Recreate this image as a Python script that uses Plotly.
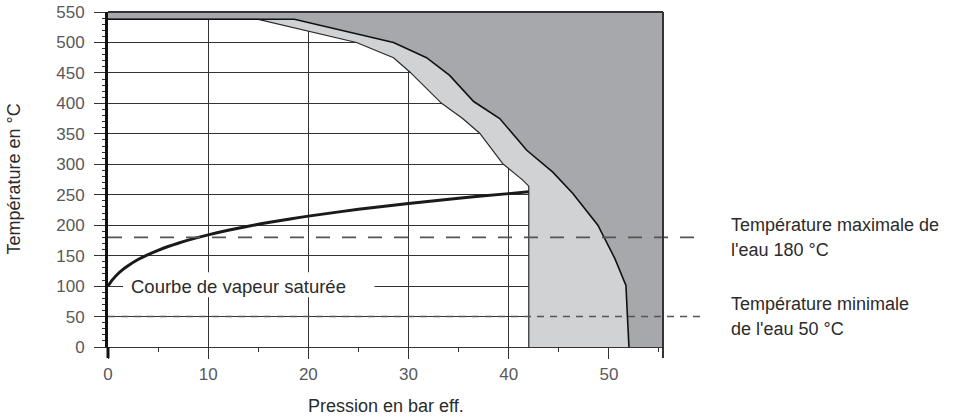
import plotly.graph_objects as go

# ---- data ----
# saturated steam curve (gauge pressure in bar, temperature in °C)
sat_p = [0, 0.25, 0.5, 1, 1.5, 2, 3, 4, 5, 6, 7, 8, 10, 12, 14, 16, 18, 20, 25, 30, 35, 40, 42]
sat_t = [100, 106, 111.4, 120.2, 127.4, 133.5, 143.6, 151.8, 158.8, 165, 170.4, 175.4, 184.1,
         191.6, 198.3, 204.3, 209.8, 214.9, 226, 235.7, 244.2, 251.8, 254.7]

# outer limit (dark region to the right / above)
outer_p = [0, 18.6, 28.5, 31.8, 34.1, 36.5, 39.1, 41.8, 44.4, 46.4, 48.9, 50.6, 51.7, 52.0]
outer_t = [538, 538, 500, 475, 446, 403, 375, 323, 287, 252, 200, 145, 101, 0]

# inner limit (light region between inner and outer)
inner_p = [0, 15.0, 24.8, 28.5, 30.1, 33.3, 35.4, 37.1, 39.4, 41.4, 42.0, 42.0]
inner_t = [538, 538, 500, 475, 452, 400, 375, 351, 301, 274, 264, 0]

x_max = 55.4
y_max = 550
x_ticks = [0, 10, 20, 30, 40, 50]
x_minor = [5, 15, 25, 35, 45, 55]
y_ticks = list(range(0, 551, 50))

t_max_water = 180
t_min_water = 50
label_max_lines = ["Température maximale de", "l'eau 180 °C"]
label_min_lines = ["Température minimale", "de l'eau 50 °C"]
label_curve = "Courbe de vapeur saturée"
x_title = "Pression en bar eff."
y_title = "Température en °C"

DARK = "#a7a8ab"
LIGHT = "#d1d2d4"
GRID = "#333333"
FONT = "Liberation Sans, Arial, sans-serif"

fig = go.Figure()

# dark region polygon
fig.add_trace(go.Scatter(
    x=outer_p + [x_max, x_max, 0], y=outer_t + [0, y_max, y_max],
    fill="toself", fillcolor=DARK, mode="lines", line=dict(width=0),
    hoverinfo="skip", showlegend=False))

# light region polygon
fig.add_trace(go.Scatter(
    x=inner_p + outer_p[::-1], y=inner_t + outer_t[::-1],
    fill="toself", fillcolor=LIGHT, mode="lines", line=dict(width=0),
    hoverinfo="skip", showlegend=False))

# boundary lines
fig.add_trace(go.Scatter(x=inner_p, y=inner_t, mode="lines",
                         line=dict(color="#2a2a2a", width=1.2), hoverinfo="skip", showlegend=False))
fig.add_trace(go.Scatter(x=outer_p, y=outer_t, mode="lines",
                         line=dict(color="#111111", width=1.6), hoverinfo="skip", showlegend=False))

# saturated steam curve
fig.add_trace(go.Scatter(x=sat_p, y=sat_t, mode="lines", line=dict(color="#1a1a1a", width=3, shape="spline"),
                         hoverinfo="skip", showlegend=False))

W, H = 953, 420
ML, MT = 108, 12
PW, PH = 555, 335
MR = W - ML - PW
MB = H - MT - PH
tick_px = 11

shapes = [
    # white box behind the curve label
    dict(type="rect", xref="x", yref="y", x0=1.5, x1=26.6, y0=81.6, y1=122.6,
         fillcolor="white", line=dict(width=0), layer="above"),
    # dashed water temperature lines
    dict(type="line", xref="paper", yref="y", x0=0, x1=(704 - ML) / PW, y0=t_max_water, y1=t_max_water,
         line=dict(color="#555555", width=1.6, dash="14px,12px"), layer="above"),
    dict(type="line", xref="paper", yref="y", x0=0, x1=(704 - ML) / PW, y0=t_min_water, y1=t_min_water,
         line=dict(color="#555555", width=1.6, dash="7px,6px"), layer="above"),
    # top and right border
    dict(type="line", xref="paper", yref="paper", x0=0, x1=1, y0=1, y1=1,
         line=dict(color="#333333", width=2), layer="above"),
    dict(type="line", xref="paper", yref="paper", x0=1, x1=1, y0=-tick_px / PH, y1=1,
         line=dict(color="#333333", width=2), layer="above"),
    # left axis extension below
    dict(type="line", xref="paper", yref="paper", x0=0, x1=0, y0=-tick_px / PH, y1=0,
         line=dict(color="#111111", width=3), layer="above"),
]

TXT = dict(family=FONT, size=18, color="#2b2b2b")
annotations = [
    dict(text=label_curve, xref="x", yref="y", x=2.1, y=100, xanchor="left", yanchor="middle",
         showarrow=False, font=dict(family=FONT, size=18.5, color="#2b2b2b")),
    dict(text=x_title, xref="paper", yref="paper", x=0.5, y=(347 - 406) / PH,
         xanchor="center", yanchor="middle", showarrow=False, font=TXT),
    dict(text=y_title, xref="paper", yref="paper", x=(13 - ML) / PW, y=0.5,
         xanchor="center", yanchor="middle", textangle=-90, showarrow=False, font=TXT),
]
for lines, yv in ((label_max_lines, t_max_water), (label_min_lines, t_min_water)):
    for k, line in enumerate(lines):
        annotations.append(dict(text=line, xref="paper", yref="y", x=(729 - ML) / PW, y=yv,
                                xanchor="left", yanchor="middle", align="left", showarrow=False,
                                yshift=12.5 if k == 0 else -12.5, font=TXT))

fig.update_layout(
    template="none",
    width=W, height=H,
    margin=dict(l=ML, r=MR, t=MT, b=MB, pad=0, autoexpand=False),
    paper_bgcolor="white", plot_bgcolor="white",
    showlegend=False,
    shapes=shapes, annotations=annotations,
    font=dict(family=FONT, size=17, color="#595959"),
    xaxis=dict(range=[0, x_max], tickmode="array", tickvals=x_ticks, automargin=False,
               ticks="outside", ticklen=tick_px, tickwidth=1.2, tickcolor=GRID,
               showgrid=True, gridcolor=GRID, gridwidth=1.3, zeroline=False,
               showline=True, linecolor=GRID, linewidth=1.3,
               tickfont=dict(family=FONT, size=17, color="#595959"),
               minor=dict(tickmode="array", tickvals=x_minor, ticks="outside", ticklen=4,
                          tickcolor=GRID, tickwidth=1, showgrid=False),
               fixedrange=True),
    yaxis=dict(range=[0, y_max], tickmode="array", tickvals=y_ticks, automargin=False,
               ticks="outside", ticklen=tick_px, tickwidth=1.2, tickcolor=GRID,
               showgrid=True, gridcolor=GRID, gridwidth=1.3, zeroline=False,
               showline=True, linecolor="#111111", linewidth=3,
               tickfont=dict(family=FONT, size=17, color="#595959"),
               ticklabelstandoff=6,
               minor=dict(dtick=10, ticks="outside", ticklen=3, tickcolor="#333333",
                          tickwidth=1, showgrid=False),
               fixedrange=True),
)

# remove the default 8px page margin so the figure sits at the window's top-left corner
fig.write_html("out.html", config={"displayModeBar": False},
               post_script="document.body.style.margin='0';")
